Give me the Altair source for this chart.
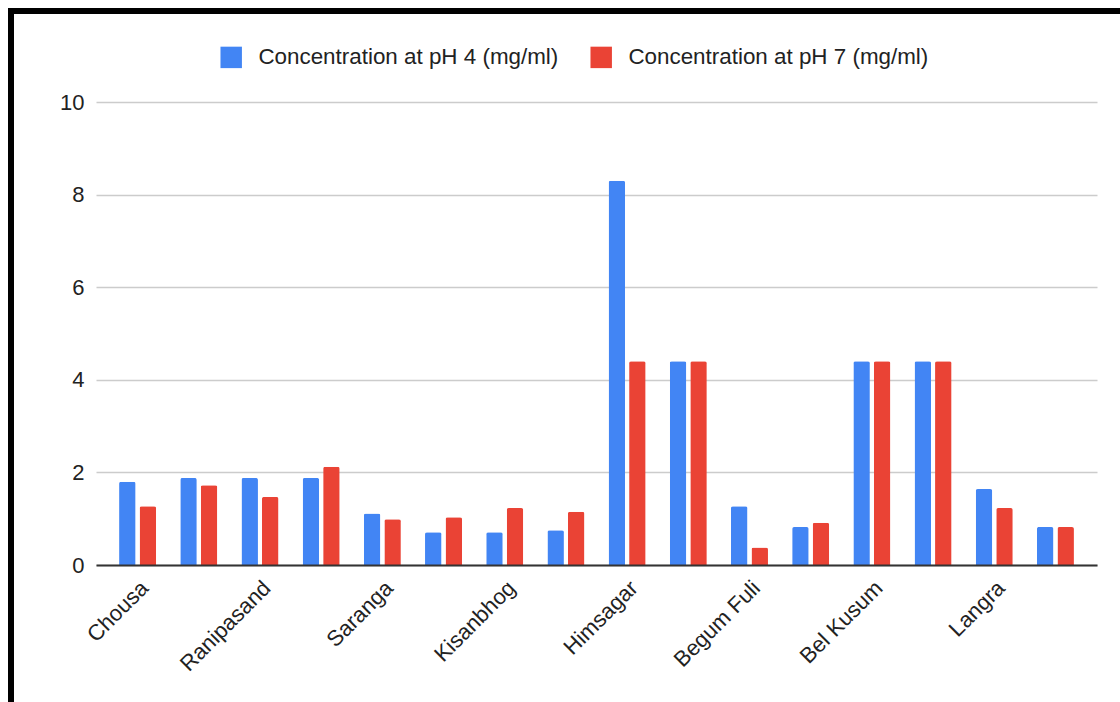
import altair as alt
import pandas as pd

# Mango varieties: only every second slot carries a printed name
slot_labels = ["Chousa", "", "Ranipasand", "", "Saranga", "", "Kisanbhog", "",
               "Himsagar", "", "Begum Fuli", "", "Bel Kusum", "", "Langra", ""]

series_names = ["Concentration at pH 4 (mg/ml)", "Concentration at pH 7 (mg/ml)"]
series_colors = ["#4285F4", "#EA4335"]

conc_ph4 = [1.80, 1.88, 1.88, 1.88, 1.11, 0.71, 0.71, 0.75,
            8.30, 4.40, 1.27, 0.82, 4.40, 4.40, 1.64, 0.82]
conc_ph7 = [1.27, 1.72, 1.47, 2.12, 0.99, 1.03, 1.23, 1.15,
            4.40, 4.40, 0.38, 0.91, 4.40, 4.40, 1.23, 0.82]

rows = []
for i in range(len(slot_labels)):
    rows.append({"slot": i, "series": series_names[0], "value": conc_ph4[i]})
    rows.append({"slot": i, "series": series_names[1], "value": conc_ph7[i]})
df = pd.DataFrame(rows)

label_js = "[" + ",".join("'" + s + "'" for s in slot_labels) + "][datum.value]"

FONT = "Liberation Sans"
TEXT = "#222222"
PLOT_W, PLOT_H = 1001, 463
PAD_L, PAD_T = 96, 102

bars = alt.Chart(df).mark_bar(cornerRadiusTopLeft=2, cornerRadiusTopRight=2).encode(
    x=alt.X("slot:O",
            scale=alt.Scale(paddingInner=0.395, paddingOuter=0.377),
            axis=alt.Axis(title=None, labelExpr=label_js, labelAngle=-45,
                          labelFontSize=22, labelColor=TEXT, labelFont=FONT,
                          labelPadding=12, ticks=False, grid=False,
                          domainColor="#333333", domainWidth=2, zindex=1)),
    xOffset=alt.XOffset("series:N", sort=series_names,
                        scale=alt.Scale(paddingInner=0.195, paddingOuter=0)),
    y=alt.Y("value:Q",
            scale=alt.Scale(domain=[0, 10], nice=False),
            axis=alt.Axis(title=None, values=[0, 2, 4, 6, 8, 10], domain=False,
                          ticks=False, labelFontSize=22, labelColor=TEXT,
                          labelFont=FONT, labelPadding=12, gridColor="#cccccc",
                          gridWidth=1.5)),
    color=alt.Color("series:N", sort=series_names,
                    scale=alt.Scale(domain=series_names, range=series_colors),
                    legend=alt.Legend(title=None, orient="none", direction="horizontal",
                                      legendX=124, legendY=-56,
                                      symbolType="square", symbolSize=460,
                                      symbolStrokeWidth=0, labelFontSize=22.4,
                                      labelFont=FONT, labelColor=TEXT,
                                      labelOffset=16, columnPadding=31,
                                      padding=0, labelLimit=400)),
)

# Black frame along the top and left edges of the page
frame = alt.Data(values=[{}])
top_edge = alt.Chart(frame).mark_rule(color="black", strokeWidth=6).encode(
    x=alt.value(8 - PAD_L), x2=alt.value(1130 - PAD_L), y=alt.value(11 - PAD_T))
left_edge = alt.Chart(frame).mark_rule(color="black", strokeWidth=6).encode(
    x=alt.value(11 - PAD_L), y=alt.value(8 - PAD_T), y2=alt.value(720 - PAD_T))

chart = alt.layer(bars, top_edge, left_edge).properties(
    width=PLOT_W, height=PLOT_H,
    autosize=alt.AutoSizeParams(type="none"),
    padding={"left": PAD_L, "top": PAD_T, "right": 1120 - PAD_L - PLOT_W,
             "bottom": 702 - PAD_T - PLOT_H},
    background="white",
).configure_view(stroke=None)

chart.save("out.html", embed_options={"renderer": "svg", "actions": False})
